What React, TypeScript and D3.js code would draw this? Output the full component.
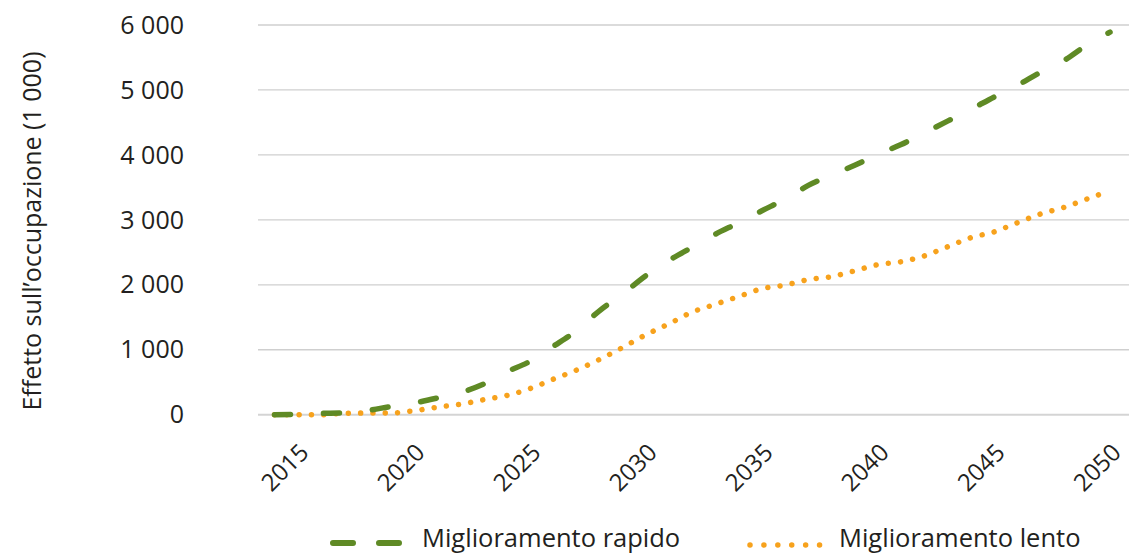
// EmploymentEffectChart.tsx
import React, { useRef, useEffect } from "react";
import * as d3 from "d3";

const years = [
  2014, 2015, 2016, 2017, 2018, 2019, 2020, 2021, 2022, 2023, 2024, 2025, 2026,
  2027, 2028, 2029, 2030, 2031, 2032, 2033, 2034, 2035, 2036, 2037, 2038, 2039,
  2040, 2041, 2042, 2043, 2044, 2045, 2046, 2047, 2048, 2049, 2050,
];

// Miglioramento rapido (migliaia)
const rapido = [
  0, 5, 20, 30, 65, 125, 180, 255, 340, 470, 660, 820, 1050, 1290, 1600, 1860,
  2140, 2375, 2580, 2780, 2955, 3140, 3320, 3530, 3690, 3840, 4010, 4160, 4340,
  4520, 4700, 4890, 5070, 5270, 5450, 5690, 5890,
];

// Miglioramento lento (migliaia)
const lento = [
  0, 0, 0, 20, 25, 25, 60, 115, 160, 230, 295, 400, 545, 685, 850, 1035, 1230,
  1400, 1580, 1700, 1820, 1940, 1995, 2080, 2125, 2215, 2310, 2355, 2445, 2585,
  2725, 2815, 2955, 3090, 3190, 3320, 3450,
];

const yTicks = [0, 1000, 2000, 3000, 4000, 5000, 6000];
const xTicks = [2015, 2020, 2025, 2030, 2035, 2040, 2045, 2050];

const green = "#5f8a25";
const orange = "#f7a21d";
const textColor = "#231f20";
const font = "'Open Sans', sans-serif";

const App: React.FC = () => {
  const ref = useRef<SVGSVGElement | null>(null);

  useEffect(() => {
    if (!ref.current) return;
    const width = 1129;
    const height = 555;

    const svg = d3
      .select(ref.current)
      .attr("width", width)
      .attr("height", height)
      .attr("viewBox", [0, 0, width, height])
      .style("font-family", font);

    const x = d3.scaleLinear().domain([2014, 2050]).range([274.5, 1110]);
    const y = d3.scaleLinear().domain([0, 6000]).range([414.7, 25]);

    const fmt = (v: number) => d3.format(",")(v).replace(/,/g, " ");

    // griglia orizzontale
    svg
      .append("g")
      .selectAll("line")
      .data(yTicks)
      .join("line")
      .attr("x1", 258)
      .attr("x2", width)
      .attr("y1", (d) => y(d))
      .attr("y2", (d) => y(d))
      .attr("stroke", (d) => (d === 0 ? "#d4d4d4" : "#cfcfcf"))
      .attr("stroke-width", (d) => (d === 0 ? 2 : 1.3));

    // etichette asse y
    svg
      .append("g")
      .selectAll("text")
      .data(yTicks)
      .join("text")
      .attr("x", 184)
      .attr("y", (d) => y(d) + 2)
      .attr("text-anchor", "end")
      .attr("dominant-baseline", "middle")
      .attr("font-size", 25)
      .attr("fill", textColor)
      .text((d) => fmt(d));

    // titolo asse y
    svg
      .append("text")
      .attr("transform", `translate(34,231) rotate(-90)`)
      .attr("text-anchor", "middle")
      .attr("dominant-baseline", "middle")
      .attr("font-size", 25)
      .attr("fill", textColor)
      .text("Effetto sull’occupazione (1 000)");

    // etichette asse x ruotate
    svg
      .append("g")
      .selectAll("text")
      .data(xTicks)
      .join("text")
      .attr("transform", (d) => `translate(${x(d) + 12.5},454) rotate(-45)`)
      .attr("text-anchor", "end")
      .attr("font-size", 24)
      .attr("fill", textColor)
      .text((d) => d);

    const line = d3
      .line<number>()
      .curve(d3.curveMonotoneX)
      .x((_d, i) => x(years[i]))
      .y((d) => y(d));

    svg
      .append("path")
      .attr("d", line(lento))
      .attr("fill", "none")
      .attr("stroke", orange)
      .attr("stroke-width", 5.5)
      .attr("stroke-linecap", "round")
      .attr("stroke-dasharray", "0.01 12.3");

    svg
      .append("path")
      .attr("d", line(rapido))
      .attr("fill", "none")
      .attr("stroke", green)
      .attr("stroke-width", 5.5)
      .attr("stroke-linecap", "round")
      .attr("stroke-dasharray", "16 33");

    // legenda
    const legend = svg.append("g");
    legend
      .append("line")
      .attr("x1", 333)
      .attr("x2", 399)
      .attr("y1", 543)
      .attr("y2", 543)
      .attr("stroke", green)
      .attr("stroke-width", 6)
      .attr("stroke-linecap", "round")
      .attr("stroke-dasharray", "20 26");
    legend
      .append("text")
      .attr("x", 422)
      .attr("y", 540)
      .attr("dominant-baseline", "middle")
      .attr("font-size", 25.5)
      .attr("fill", textColor)
      .text("Miglioramento rapido");
    legend
      .append("line")
      .attr("x1", 750)
      .attr("x2", 820)
      .attr("y1", 545)
      .attr("y2", 545)
      .attr("stroke", orange)
      .attr("stroke-width", 5.5)
      .attr("stroke-linecap", "round")
      .attr("stroke-dasharray", "0.01 13.9");
    legend
      .append("text")
      .attr("x", 839)
      .attr("y", 540)
      .attr("dominant-baseline", "middle")
      .attr("font-size", 25.5)
      .attr("fill", textColor)
      .text("Miglioramento lento");

    return () => {
      svg.selectAll("*").remove();
    };
  }, []);

  return (
    <svg
      ref={ref}
      style={{ position: "absolute", left: 0, top: 0, display: "block", background: "#fff" }}
    ></svg>
  );
};

export default App;
